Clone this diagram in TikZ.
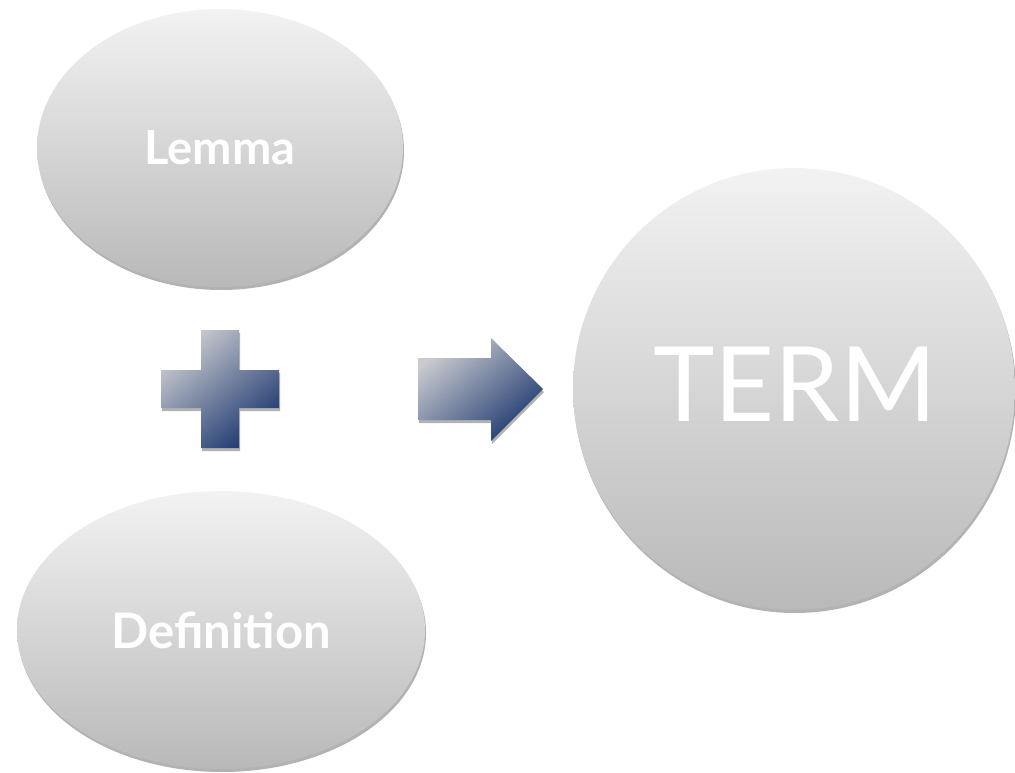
\documentclass[tikz,border=0pt]{standalone}
\usepackage{fontspec}
\setmainfont{Lato}
\usetikzlibrary{shapes.geometric,shadows}
\definecolor{navy}{HTML}{1F3A70}
\definecolor{lightg}{HTML}{C9CACF}
\tikzset{
  bubble/.style={ellipse, inner sep=0pt, top color=gray!10, bottom color=gray!55,
    draw=none, text=white,
    drop shadow={shadow xshift=1pt, shadow yshift=-3pt, opacity=0.3, fill=black}},
  symb/.style={top color=lightg, bottom color=navy, shading angle=40, draw=none,
    drop shadow={shadow xshift=1pt, shadow yshift=-3pt, opacity=0.3, fill=black}}
}
\begin{document}
\begin{tikzpicture}[x=1pt,y=-1pt]
\useasboundingbox (0,0) rectangle (1015,772);
\node[bubble, minimum width=366pt, minimum height=278pt, font=\bfseries\fontsize{47}{50}\selectfont] (lemma) at (220,148) {Lemma};
\node[bubble, minimum width=408pt, minimum height=278pt, font=\bfseries\fontsize{49}{52}\selectfont] (def) at (221,630) {Definition};
\node[bubble, circle, minimum size=442pt] (term) at (794,389) {};
\node[text=white, font=\fontsize{104}{108}\selectfont, inner sep=0pt] (termtext) at (795,384) {TERM};
\path[symb] (201,330) -- (239,330) -- (239,370) -- (279,370) -- (279,408) -- (239,408) -- (239,448) -- (201,448) -- (201,408) -- (161,408) -- (161,370) -- (201,370) -- cycle;
\path[symb] (418,358) -- (491,358) -- (491,338) -- (543,389) -- (491,441) -- (491,420) -- (418,420) -- cycle;
\end{tikzpicture}
\end{document}
